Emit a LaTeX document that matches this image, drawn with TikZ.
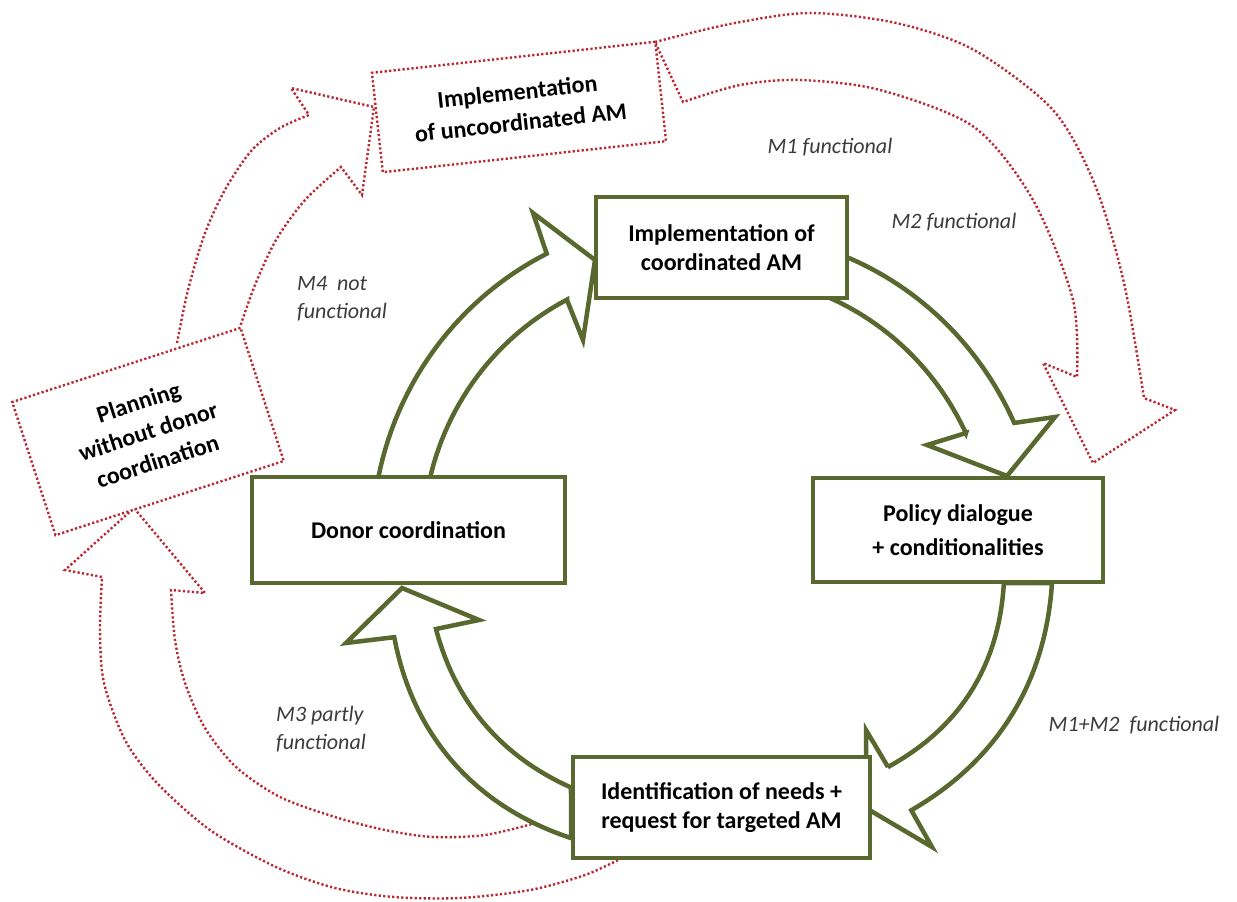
\documentclass[tikz,border=0pt]{standalone}
\usepackage{fontspec}
\setmainfont{Carlito}
\definecolor{grn}{RGB}{88,104,46}
\definecolor{dred}{RGB}{185,40,50}
\definecolor{lbl}{RGB}{60,60,60}
\begin{document}
\begin{tikzpicture}[x=1pt,y=-1pt,
  gbox/.style={draw=grn, line width=4.5pt, fill=white, align=center, inner sep=0pt,
    font=\bfseries\fontsize{24}{29}\selectfont},
  rbox/.style={draw=dred, line width=2.4pt, dash pattern=on 2.2pt off 2.3pt, fill=white,
    align=center, inner sep=0pt, font=\bfseries\fontsize{24}{31}\selectfont},
  garrow/.style={draw=grn, line width=4.5pt, fill=white, line join=miter},
  rarrow/.style={draw=dred, line width=2.4pt, dash pattern=on 2.2pt off 2.3pt, line join=miter},
  lab/.style={font=\itshape\fontsize{22}{28}\selectfont, text=lbl, align=left, inner sep=0pt}]
\useasboundingbox (0,0) rectangle (1237,902);
\fill[white] (0,0) rectangle (1237,902);
\coordinate (c) at (700,530);

% ---- red dotted arrows ----
% M1: uncoordinated -> policy side
\draw[rarrow] plot[smooth] coordinates {(655,42) (730,24) (809,13) (896,23) (974,50) (1053,110) (1095,185) (1124,283) (1144,398)}
  -- (1175,410) -- (1093,463) -- (1043,363) -- (1077,377)
  -- plot[smooth] coordinates {(1077,377) (1073,300) (1033,200) (974,127) (880,90) (800,80) (740,85) (683,102)} -- cycle;
% M4: planning -> uncoordinated
\draw[rarrow] plot[smooth] coordinates {(177,343) (188,290) (205,233) (226,188) (252,150) (280,128) (309,115)}
  -- (291,88) -- (374,107) -- (362,195) -- (341,167)
  -- plot[smooth] coordinates {(341,167) (305,200) (276,240) (255,285) (240,327)};
% M3: identification -> planning
\draw[rarrow] plot[smooth] coordinates {(622,858) (585,875) (530,890) (460,898) (394,897) (335,888) (276,867) (210,830) (157,783) (125,740) (104,683) (100,630) (102,577)}
  -- (65,570) -- (134,508) -- (205,593) -- (171,590)
  -- plot[smooth] coordinates {(171,590) (175,640) (185,683) (205,728) (236,767) (280,797) (335,817) (385,830) (433,837) (485,835) (532,824)};

% ---- red dotted boxes ----
\node[rbox, rotate=18, minimum width=240pt, minimum height=140pt] (plan) at (148,431.5)
  {Planning\\without donor\\coordination};
\node[rbox, rotate=6.25, minimum width=285pt, minimum height=100pt] (unc) at (519,107)
  {Implementation\\of uncoordinated AM};

% ---- green block arrows (arcs around the centre c) ----
% donor -> coordinated
\draw[garrow]
  plot[domain=0:1, samples=30, variable=\t] ({700+(326-10*\t)*cos(189+52*\t)}, {530+(326-10*\t)*sin(189+52*\t)})
  -- (533,213) -- (595,260) -- (583,340) -- (567,300)
  -- plot[domain=0:1, samples=30, variable=\t] ({700+(266+9*\t)*cos(240-49.3*\t)}, {530+(266+9*\t)*sin(240-49.3*\t)})
  -- cycle;
% coordinated -> policy
\draw[garrow]
  plot[domain=0:1, samples=30, variable=\t] ({700+(310+22*\t)*cos(298.5+42.7*\t)}, {530+(310+22*\t)*sin(298.5+42.7*\t)})
  -- (1055,417) -- (1007,476) -- (927,445) -- (966,433)
  -- plot[domain=0:1, samples=30, variable=\t] ({700+(283-17*\t)*cos(340-40.7*\t)}, {530+(283-17*\t)*sin(340-40.7*\t)})
  -- cycle;
% policy -> identification
\draw[garrow]
  plot[domain=0:1, samples=30, variable=\t] ({700+(356-5*\t+9*sin(180*\t))*cos(8.6+44.4*\t)}, {530+(356-5*\t+9*sin(180*\t))*sin(8.6+44.4*\t)})
  -- (932,847) -- (866,808) -- (866,730) -- (888,767)
  -- plot[domain=0:1, samples=30, variable=\t] ({700+(302.5+6*\t+10*sin(180*\t))*cos(51.6-41.7*\t)}, {530+(302.5+6*\t+10*sin(180*\t))*sin(51.6-41.7*\t)})
  -- cycle;
% identification -> donor
\draw[garrow]
  plot[domain=0:1, samples=30, variable=\t] ({700+(334-10*\t+10*sin(180*\t))*cos(112.7+48*\t)}, {530+(334-10*\t+10*sin(180*\t))*sin(112.7+48*\t)})
  -- (346,643) -- (402,588) -- (479,620) -- (436,629)
  -- plot[domain=0:1, samples=30, variable=\t] ({700+(282+6*\t+5*sin(180*\t))*cos(159.4-42.8*\t)}, {530+(282+6*\t+5*sin(180*\t))*sin(159.4-42.8*\t)})
  -- cycle;

% ---- green boxes ----
\node[gbox, minimum width=251pt, minimum height=101pt] (coord) at (721.5,247.5)
  {Implementation of\\coordinated AM};
\node[gbox, minimum width=290pt, minimum height=104pt, font=\bfseries\fontsize{24}{34}\selectfont] (policy) at (958,530)
  {Policy dialogue\\+ conditionalities};
\node[gbox, minimum width=313pt, minimum height=106pt] (donor) at (408.5,530)
  {Donor coordination};
\node[gbox, minimum width=297pt, minimum height=101pt] (ident) at (721.5,807.5)
  {Identification of needs +\\request for targeted AM};

% ---- labels ----
\node[lab] (m1) at (830,147) {M1 functional};
\node[lab] (m2) at (954,222) {M2 functional};
\node[lab, anchor=west] (m4) at (297,299) {M4~~not\\functional};
\node[lab, anchor=west] (m3) at (276,729) {M3 partly\\functional};
\node[lab] (m12) at (1134,725) {M1+M2~~functional};
\end{tikzpicture}
\end{document}
